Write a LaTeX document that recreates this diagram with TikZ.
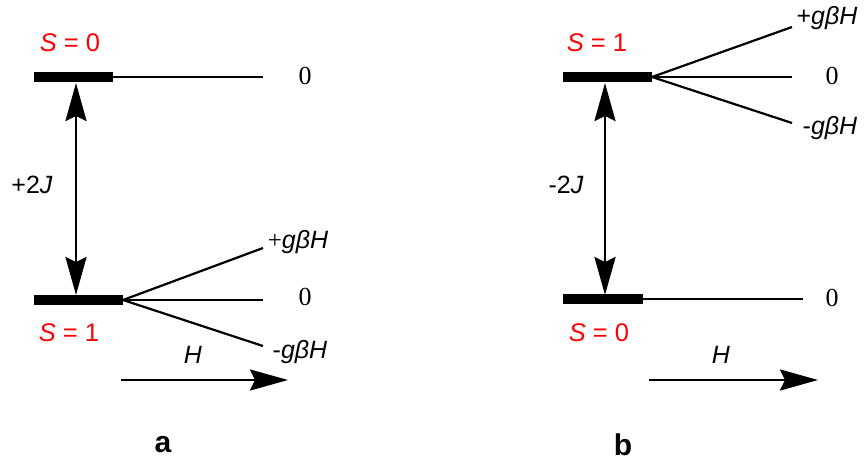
\documentclass[tikz,border=0pt]{standalone}
\usepackage{fontspec}
\setmainfont{Liberation Sans}
\newfontfamily\numfont{Liberation Serif}
\usetikzlibrary{arrows.meta}
\begin{document}
\begin{tikzpicture}[x=1pt,y=-1pt,
  level/.style={line width=10.5pt},
  thin level/.style={line width=2.2pt},
  spin/.style={text=red,font=\fontsize{25.5}{28}\selectfont},
  energy/.style={font=\fontsize{25}{28}\selectfont},
  zero/.style={font=\numfont\fontsize{26}{30}\selectfont},
  panel/.style={font=\bfseries\fontsize{30}{34}\selectfont},
  tip/.style={Stealth[length=38pt,width=21pt,inset=5pt]},
  gap/.style={line width=2.8pt,{Stealth[length=38pt,width=21pt,inset=5pt]}-{Stealth[length=38pt,width=21pt,inset=5pt]}},
  field/.style={line width=2.8pt,-{Stealth[length=38pt,width=21pt,inset=5pt]}}]
\useasboundingbox (0,0) rectangle (864,461);

% ---------- panel a ----------
\coordinate (a-top-l) at (34,77);
\coordinate (a-top-r) at (113,77);
\coordinate (a-top-end) at (263,77);
\coordinate (a-bot-l) at (34,300);
\coordinate (a-bot-r) at (123,300);
\coordinate (a-up) at (263,248);
\coordinate (a-mid) at (263,300);
\coordinate (a-dn) at (263,346);
\coordinate (a-arr-t) at (76,83);
\coordinate (a-arr-b) at (76,295);
\coordinate (a-h-s) at (121,380);
\coordinate (a-h-e) at (288,380);

\draw[level] (a-top-l) -- (a-top-r);
\draw[thin level] (a-top-r) -- (a-top-end);
\draw[level] (a-bot-l) -- (a-bot-r);
\draw[thin level] (a-bot-r) -- (a-up);
\draw[thin level] (a-bot-r) -- (a-mid);
\draw[thin level] (a-bot-r) -- (a-dn);
\draw[gap] (a-arr-t) -- (a-arr-b);
\draw[field] (a-h-s) -- (a-h-e);

\node[spin] (a-s0) at (70,43) {\textit{S} = 0};
\node[spin] (a-s1) at (69,333) {\textit{S} = 1};
\node[zero] (a-z0) at (305,76) {0};
\node[zero] (a-z1) at (305,297) {0};
\node[energy] (a-plus) at (298,242) {{\numfont+}\textit{gβH}};
\node[energy] (a-minus) at (300,352) {-\textit{gβH}};
\node[energy] (a-J) at (32,185) {+2\textit{J}};
\node[energy] (a-H) at (193,355) {\textit{H}};
\node[panel] (a-lab) at (163,445) {a};

% ---------- panel b ----------
\coordinate (b-top-l) at (563,77);
\coordinate (b-top-r) at (652,77);
\coordinate (b-up) at (792,27);
\coordinate (b-mid) at (792,77);
\coordinate (b-dn) at (792,123);
\coordinate (b-bot-l) at (563,299);
\coordinate (b-bot-r) at (643,299);
\coordinate (b-bot-end) at (803,299);
\coordinate (b-arr-t) at (605,83);
\coordinate (b-arr-b) at (605,295);
\coordinate (b-h-s) at (649,380);
\coordinate (b-h-e) at (818,380);

\draw[level] (b-top-l) -- (b-top-r);
\draw[thin level] (b-top-r) -- (b-up);
\draw[thin level] (b-top-r) -- (b-mid);
\draw[thin level] (b-top-r) -- (b-dn);
\draw[level] (b-bot-l) -- (b-bot-r);
\draw[thin level] (b-bot-r) -- (b-bot-end);
\draw[gap] (b-arr-t) -- (b-arr-b);
\draw[field] (b-h-s) -- (b-h-e);

\node[spin] (b-s1) at (597,43) {\textit{S} = 1};
\node[spin] (b-s0) at (599,333) {\textit{S} = 0};
\node[zero] (b-z0) at (832,76) {0};
\node[zero] (b-z1) at (832,298) {0};
\node[energy] (b-plus) at (827,18) {+\textit{gβH}};
\node[energy] (b-minus) at (830,128) {-\textit{gβH}};
\node[energy] (b-J) at (566,185) {-2\textit{J}};
\node[energy] (b-H) at (721,355) {\textit{H}};
\node[panel] (b-lab) at (623,445) {b};
\end{tikzpicture}
\end{document}
